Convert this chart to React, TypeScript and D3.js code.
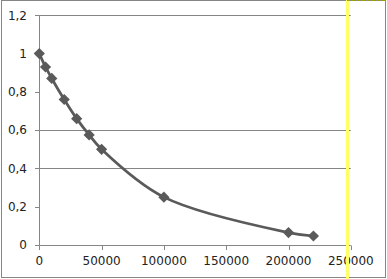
import React from "react";
import * as d3 from "d3";

const xValues = [0, 5000, 10000, 20000, 30000, 40000, 50000, 100000, 200000, 220000];
const yValues = [1, 0.93, 0.87, 0.76, 0.66, 0.575, 0.5, 0.25, 0.065, 0.047];
const xTicks = [0, 50000, 100000, 150000, 200000, 250000];
const yTicks = [0, 0.2, 0.4, 0.6, 0.8, 1, 1.2];
const gridValues = [0.4, 0.6, 1.2];

const W = 387;
const H = 279;

export default function App() {
  const x = d3.scaleLinear().domain([0, 250000]).range([39.3, 350.8]);
  const y = d3.scaleLinear().domain([0, 1.2]).range([245, 15.3]);
  const pts: [number, number][] = xValues.map((v, i) => [x(v), y(yValues[i])]);
  const line = d3.line().curve(d3.curveCatmullRom.alpha(0.5))(pts) || "";
  const diamond = d3.symbol().type(d3.symbolDiamond2).size(80)() || "";
  const fmt = (v: number) => String(Math.round(v * 10) / 10).replace(".", ",");
  const axisColor = "#868686";
  const font = "DejaVu Sans, Verdana, sans-serif";
  return (
    <svg width={W} height={H} style={{ position: "absolute", left: 0, top: 0, background: "#fff" }}>
      <rect x={1.5} y={0.5} width={384} height={277} fill="#fff" stroke={axisColor} strokeWidth={1} />
      {gridValues.map((g) => (
        <line key={g} x1={x(0)} x2={x(250000)} y1={Math.round(y(g)) + 0.5} y2={Math.round(y(g)) + 0.5} stroke={axisColor} strokeWidth={1} />
      ))}
      <line x1={39.5} x2={39.5} y1={y(1.2)} y2={y(0)} stroke={axisColor} />
      <line x1={x(0)} x2={x(250000)} y1={245.5} y2={245.5} stroke={axisColor} />
      {yTicks.map((t) => (
        <g key={t}>
          <line x1={35} x2={39.5} y1={Math.round(y(t)) + 0.5} y2={Math.round(y(t)) + 0.5} stroke={axisColor} />
          <text x={27} y={y(t)} dy="0.35em" textAnchor="end" fontFamily={font} fontSize={12} fill="#222">
            {fmt(t)}
          </text>
        </g>
      ))}
      {xTicks.map((t) => (
        <g key={t}>
          <line x1={Math.round(x(t)) + 0.5} x2={Math.round(x(t)) + 0.5} y1={245.5} y2={250} stroke={axisColor} />
          <text x={x(t)} y={261} dy="0.35em" textAnchor="middle" fontFamily={font} fontSize={12} fill="#222">
            {String(t)}
          </text>
        </g>
      ))}
      <path d={line} fill="none" stroke="#5a5a5a" strokeWidth={2.75} />
      {pts.map(([px, py], i) => (
        <path key={i} d={diamond} transform={`translate(${px},${py})`} fill="#5a5a5a" />
      ))}
      <rect x={346} y={0} width={3} height={H} fill="#ffff66" />
      <line x1={347} x2={387} y1={0.5} y2={0.5} stroke="#a0a000" strokeDasharray="3,2" />
    </svg>
  );
}
